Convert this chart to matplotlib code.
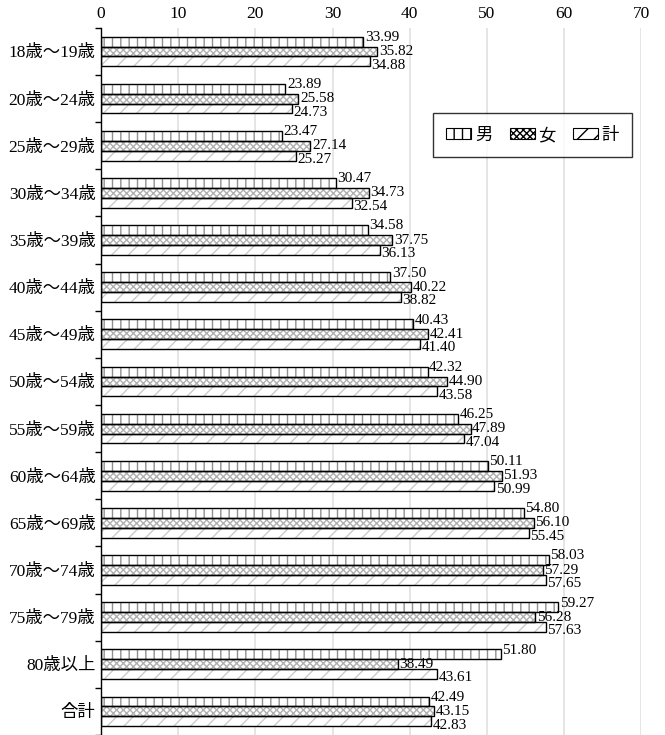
import numpy as np
import matplotlib
matplotlib.use('Agg')
import matplotlib.pyplot as plt

plt.rcParams['font.family'] = ['Liberation Serif', 'Noto Sans CJK JP']
plt.rcParams['hatch.linewidth'] = 1.0

categories = ['18歳～19歳', '20歳～24歳', '25歳～29歳', '30歳～34歳', '35歳～39歳',
              '40歳～44歳', '45歳～49歳', '50歳～54歳', '55歳～59歳', '60歳～64歳',
              '65歳～69歳', '70歳～74歳', '75歳～79歳', '80歳以上', '合計']
male = [33.99, 23.89, 23.47, 30.47, 34.58, 37.50, 40.43, 42.32, 46.25, 50.11,
        54.80, 58.03, 59.27, 51.80, 42.49]
female = [35.82, 25.58, 27.14, 34.73, 37.75, 40.22, 42.41, 44.90, 47.89, 51.93,
          56.10, 57.29, 56.28, 38.49, 43.15]
total = [34.88, 24.73, 25.27, 32.54, 36.13, 38.82, 41.40, 43.58, 47.04, 50.99,
         55.45, 57.65, 57.63, 43.61, 42.83]
series_names = ['男', '女', '計']

fig = plt.figure(figsize=(6.65, 7.35), dpi=100)
ax = fig.add_axes([0.152, 0.0, 0.812, 0.962])

y = np.arange(len(categories))
h = 0.21
styles = [('||', '#909090'), ('xxxxx', '#b0b0b0'), ('//', '#cccccc')]
label_shift = [-0.09, 0.0, 0.08]  # spread the value labels a little, like the source
handles = []
for i, (vals, (hatch, hcol), name) in enumerate(zip([male, female, total], styles, series_names)):
    pos = y + (i - 1) * h
    # hatch layer in gray, then black outline on top
    ax.barh(pos, vals, height=h, color='white', edgecolor=hcol, hatch=hatch, linewidth=0, zorder=2)
    ax.barh(pos, vals, height=h, color='none', edgecolor='black', linewidth=1.0, zorder=3)
    for p, v in zip(pos, vals):
        ax.text(v + 0.2, p + label_shift[i], f'{v:.2f}', va='center', ha='left',
                fontsize=11, family='Liberation Serif', zorder=4)
    hnd = plt.Rectangle((0, 0), 1, 1, facecolor='white', edgecolor='black',
                        hatch=hatch, linewidth=0.8)
    handles.append(hnd)

ax.set_xlim(0, 70)
ax.set_ylim(len(categories) - 0.5, -0.5)
ax.set_xticks(range(0, 71, 10))
ax.xaxis.tick_top()
ax.tick_params(axis='x', length=0, labelsize=12.5, pad=4)
ax.grid(axis='x', color='#e0e0e0', linewidth=1.2, zorder=0)
ax.set_axisbelow(True)

ax.set_yticks(y)
ax.set_yticklabels(categories, fontsize=12.5)
ax.set_yticks(np.arange(-0.5, len(categories), 1), minor=True)
ax.tick_params(axis='y', which='major', length=0, pad=4)
ax.tick_params(axis='y', which='minor', length=4, width=1)

for s in ['top', 'right', 'bottom']:
    ax.spines[s].set_visible(False)
ax.spines['left'].set_linewidth(1.0)

leg = ax.legend(handles, series_names, ncol=3, loc='upper right',
                bbox_to_anchor=(632 / 665, 1 - 113 / 735), bbox_transform=fig.transFigure,
                borderaxespad=0, frameon=True, fancybox=False, edgecolor='black',
                handlelength=1.45, handleheight=0.6, handletextpad=0.2, columnspacing=1.0,
                borderpad=0.75, prop={'family': ['Noto Sans CJK JP'], 'size': 12.5})
leg.get_frame().set_linewidth(1.0)

fig.savefig('out.png', dpi=100)
